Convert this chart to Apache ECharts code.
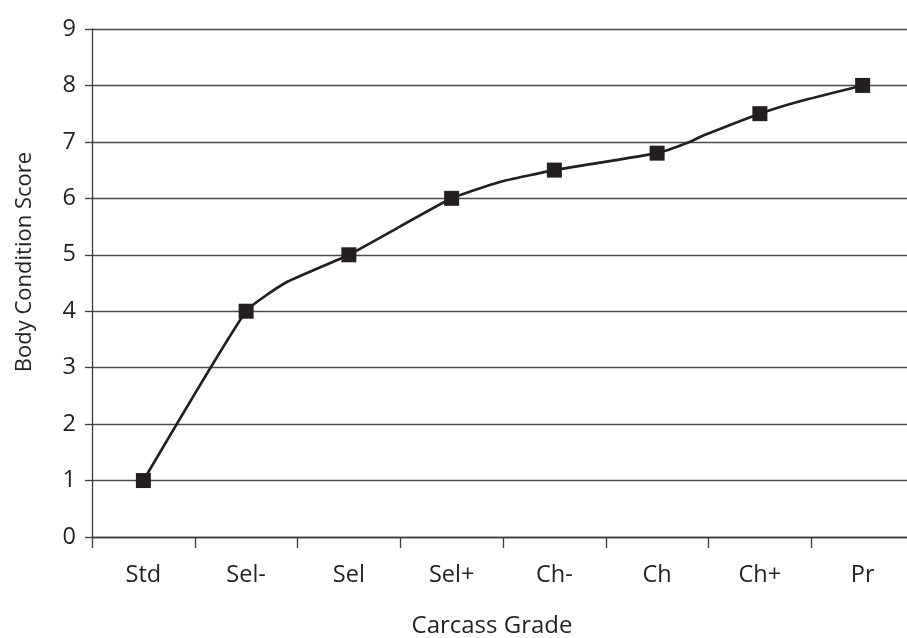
<!DOCTYPE html>
<html>
<head>
<meta charset="utf-8">
<script src="https://cdn.jsdelivr.net/npm/echarts@6/dist/echarts.min.js"></script>
<style>
  html, body { margin: 0; padding: 0; background: #ffffff; }
  #chart { width: 907px; height: 638px; }
</style>
</head>
<body>
<div id="chart"></div>
<script>
// Categories and marker values
const categories = ['Std', 'Sel-', 'Sel', 'Sel+', 'Ch-', 'Ch', 'Ch+', 'Pr'];
const scores = [1, 4, 5, 6, 6.5, 6.8, 7.5, 8];
// Path of the drawn line (x in category units)
const curvePos = [0, 1, 1.38, 2, 3, 3.47, 4, 5, 5.29, 5.46, 6, 6.39, 7];
const curveVal = [1, 4, 4.5, 5, 6, 6.29, 6.5, 6.8, 6.98, 7.12, 7.5, 7.72, 8];
const yTicks = [0, 1, 2, 3, 4, 5, 6, 7, 8, 9];

const ink = '#231f20';
const font = 'Open Sans';

const chart = echarts.init(document.getElementById('chart'), null, { renderer: 'canvas' });
chart.setOption({
  animation: false,
  backgroundColor: '#ffffff',
  grid: { left: 92, right: -7, top: 29, bottom: 101, containLabel: false, outerBoundsMode: 'none' },
  xAxis: [
    {
      type: 'category',
      data: categories,
      boundaryGap: true,
      name: 'Carcass Grade',
      nameLocation: 'middle',
      nameGap: 77,
      nameTextStyle: { fontFamily: font, fontSize: 24, color: ink, padding: [0, 22, 0, 0] },
      axisLine: { show: true, onZero: false, lineStyle: { color: '#3a3a3a', width: 1.3 } },
      axisTick: { show: true, interval: 0, length: 11, lineStyle: { color: '#3a3a3a', width: 1.3 } },
      axisLabel: { interval: 0, margin: 26, fontFamily: font, fontSize: 23.5, color: ink },
      splitLine: { show: false }
    },
    {
      type: 'value',
      min: -0.5,
      max: 7.5,
      show: false,
      axisLine: { onZero: false },
      splitLine: { show: false }
    }
  ],
  yAxis: {
    type: 'value',
    min: yTicks[0],
    max: yTicks[yTicks.length - 1],
    interval: 1,
    name: 'Body Condition Score',
    nameLocation: 'middle',
    nameGap: 56,
    nameTextStyle: { fontFamily: font, fontSize: 22, color: ink, padding: [0, 0, 0, 42] },
    axisLine: { show: true, onZero: false, lineStyle: { color: '#3a3a3a', width: 1.3 } },
    axisTick: { show: true, length: 7, lineStyle: { color: '#3a3a3a', width: 1.3 } },
    axisLabel: { margin: 16, fontFamily: font, fontSize: 23.5, color: ink },
    splitLine: { show: true, lineStyle: { color: '#4a4a4a', width: 1.3 } }
  },
  series: [
    {
      type: 'line',
      xAxisIndex: 1,
      data: curvePos.map((p, i) => [p, curveVal[i]]),
      showSymbol: false,
      smooth: 0.15,
      lineStyle: { color: ink, width: 2.7 },
      z: 2
    },
    {
      type: 'scatter',
      xAxisIndex: 0,
      data: scores,
      symbol: 'rect',
      symbolSize: 15,
      itemStyle: { color: ink, opacity: 1 },
      z: 3
    }
  ]
});
</script>
</body>
</html>
